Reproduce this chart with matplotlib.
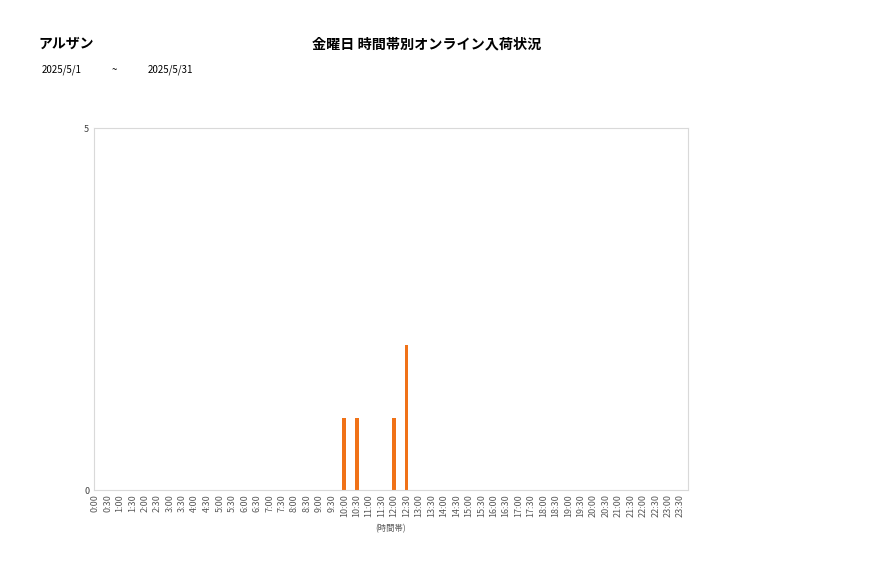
import matplotlib
matplotlib.use("Agg")
import matplotlib.pyplot as plt

plt.rcParams['font.family'] = ['Noto Sans CJK JP', 'DejaVu Sans']

times = [f"{h}:{m:02d}" for h in range(24) for m in (0, 30)]
values = [0]*48
counts = {"10:00": 1, "10:30": 1, "12:00": 1, "12:30": 2}
for k, v in counts.items():
    values[times.index(k)] = v

fig = plt.figure(figsize=(8.77, 5.78), dpi=100)
ax = fig.add_axes([94/877, 1-490/578, (688-94)/877, (490-128)/578])
x = list(range(len(times)))
ax.bar(x, values, width=0.3, color='#F07218')
ax.set_xlim(-0.1, 47.6)
ax.set_ylim(0, 5)
ax.set_yticks([0, 5])
ax.set_xticks(x)
ax.set_xticklabels(times, rotation=90, fontsize=6.5, color='#595959')
ax.tick_params(axis='y', labelsize=6.5, colors='#404040', length=0)
ax.tick_params(axis='x', length=0, pad=3)
for s in ax.spines.values():
    s.set_color('#D9D9D9')
    s.set_linewidth(0.8)
ax.set_xlabel('(時間帯)', fontsize=6, color='#595959', labelpad=5)

fig.text(38/877, 1-44/578, 'アルザン', fontsize=10, fontweight='bold', va='center', ha='left')
fig.text(427/877, 1-44/578, '金曜日 時間帯別オンライン入荷状況', fontsize=10.2, fontweight='bold', va='center', ha='center')
fig.text(42/877, 1-70/578, '2025/5/1', fontsize=7, va='center', ha='left')
fig.text(112/877, 1-70/578, '~', fontsize=7, va='center', ha='left')
fig.text(148/877, 1-70/578, '2025/5/31', fontsize=7, va='center', ha='left')

fig.savefig('out.png', dpi=100)
